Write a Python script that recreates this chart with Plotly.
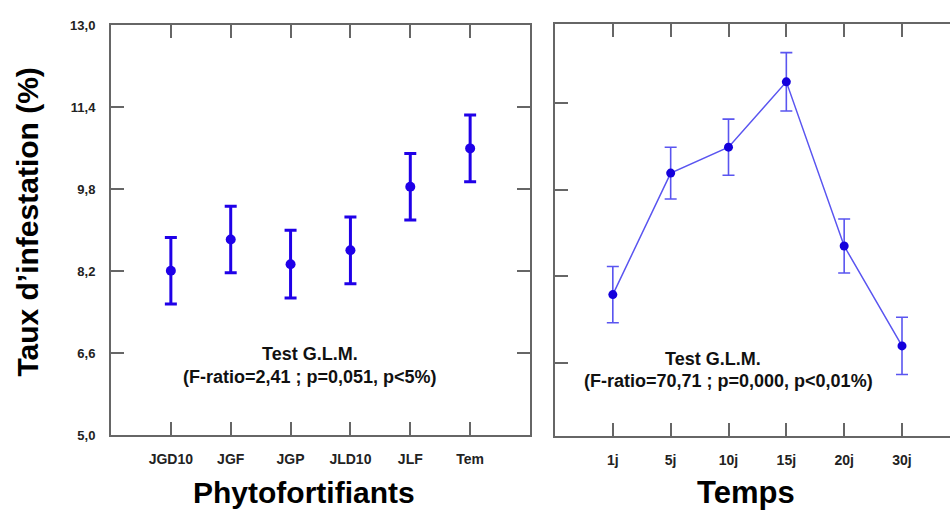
import plotly.graph_objects as go

# ---- data ----
phyto_labels = ["JGD10", "JGF", "JGP", "JLD10", "JLF", "Tem"]
phyto_pos = [1, 2, 3, 4, 5, 6]
phyto_means = [8.21, 8.82, 8.34, 8.61, 9.85, 10.60]
phyto_err = [0.65, 0.65, 0.66, 0.65, 0.65, 0.65]

temps_labels = ["1j", "5j", "10j", "15j", "20j", "30j"]
temps_pos = [1, 2, 3, 4, 5, 6]
temps_means = [7.86, 10.11, 10.59, 11.80, 8.76, 6.91]
temps_err = [0.52, 0.48, 0.52, 0.54, 0.50, 0.53]

y_tickvals = [5.0, 6.6, 8.2, 9.8, 11.4, 13.0]
y_ticktext = ["5,0", "6,6", "8,2", "9,8", "11,4", "13,0"]

FONT = "Arial, Liberation Sans, sans-serif"
AX = "#666666"
W, H = 950, 519

fig = go.Figure()

fig.add_trace(go.Scatter(
    x=phyto_pos, y=phyto_means, mode="markers",
    marker=dict(color="#1f00e8", size=10),
    error_y=dict(type="data", array=phyto_err, color="#1f00e8", thickness=3, width=6),
    xaxis="x", yaxis="y", showlegend=False,
))

fig.add_trace(go.Scatter(
    x=temps_pos, y=temps_means, mode="lines+markers",
    line=dict(color="#5a55f0", width=1.5),
    marker=dict(color="#1400dc", size=9),
    error_y=dict(type="data", array=temps_err, color="#5a55f0", thickness=1.6, width=6),
    xaxis="x2", yaxis="y2", showlegend=False,
))

common = dict(showline=True, linecolor=AX, linewidth=2, ticks="inside", ticklen=13,
              tickwidth=2, tickcolor=AX, showgrid=False, zeroline=False)
xfont = dict(family=FONT, size=14, color="#222222", weight="bold")
yfont = dict(family=FONT, size=13, color="#222222", weight="bold")

fig.update_layout(
    width=W, height=H,
    margin=dict(l=0, r=0, t=0, b=0),
    paper_bgcolor="white", plot_bgcolor="white",
    xaxis=dict(domain=[111 / W, 530 / W], range=[0, 7], tickvals=phyto_pos,
               ticktext=phyto_labels, mirror="allticks", anchor="y",
               ticklabelstandoff=10, tickfont=xfont, **common),
    yaxis=dict(domain=[1 - 441 / H, 1 - 19 / H], range=[5.0, 13.0], tickvals=y_tickvals,
               ticktext=y_ticktext, mirror="allticks", anchor="x",
               ticklabelstandoff=11, tickfont=yfont, **common),
    xaxis2=dict(domain=[555 / W, 1.0], range=[0, 6.83], tickvals=temps_pos,
                ticktext=temps_labels, mirror="allticks", anchor="y2",
                ticklabelstandoff=10, tickfont=xfont, **common),
    yaxis2=dict(domain=[1 - 442 / H, 1 - 17 / H], range=[5.238, 12.88],
                tickvals=[6.6, 8.2, 9.8, 11.4], showticklabels=False, mirror=False,
                anchor="x2", **common),
)

big = dict(family=FONT, color="black", weight="bold")
note = dict(family=FONT, size=18, color="#111111", weight="bold")
annotations = [
    dict(text="Taux d’infestation (%)", x=28 / W, y=1 - 222 / H, textangle=-90,
         font=dict(size=30, **big)),
    dict(text="Phytofortifiants", x=304 / W, y=1 - 500 / H, font=dict(size=30, **big)),
    dict(text="Temps", x=746 / W, y=1 - 500 / H, font=dict(size=31, **big)),
    dict(text="Test G.L.M.<br>(F-ratio=2,41 ; p=0,051, p&lt;5%)", x=310 / W, y=1 - 369 / H,
         font=note),
    dict(text="Test G.L.M.", x=713 / W, y=1 - 362 / H, font=note),
    dict(text="(F-ratio=70,71 ; p=0,000, p&lt;0,01%)", x=728 / W, y=1 - 385 / H, font=note),
]
for a in annotations:
    a.update(xref="paper", yref="paper", showarrow=False, xanchor="center", yanchor="middle")
fig.update_layout(annotations=annotations)

fig.write_html("out.html")
